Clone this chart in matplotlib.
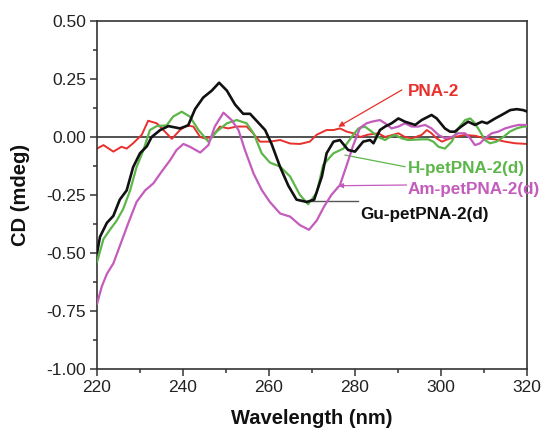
import matplotlib
matplotlib.use("Agg")
import matplotlib.pyplot as plt
from matplotlib.ticker import MultipleLocator

plt.rcParams['font.family'] = ['Liberation Sans', 'DejaVu Sans']

# ---- data ----
wl_gu = [220, 220.7, 222.3, 223.8, 225.3, 226.9, 228.4, 230.0, 231.6, 232.7, 234.7, 236.6,
         239.3, 241.2, 242.8, 244.7, 246.7, 248.4, 250.2, 252.1, 254.0, 255.6, 257.1, 259.1,
         260.6, 262.6, 264.5, 266.4, 268.8, 270.5, 272.3, 273.4, 275.0, 276.5, 278.4, 280.0,
         281.9, 283.5, 284.3, 285.8, 287.0, 288.5, 290.1, 291.6, 294.0, 295.5, 297.8, 299.0,
         300.9, 302.1, 303.2, 304.7, 306.3, 307.9, 309.5, 310.7, 312.6, 314.1, 316.1, 317.6,
         319.1, 320]
cd_gu = [-0.50, -0.43, -0.37, -0.34, -0.27, -0.23, -0.13, -0.07, -0.04, 0.00, 0.03, 0.047,
         0.037, 0.05, 0.12, 0.17, 0.20, 0.234, 0.20, 0.14, 0.10, 0.10, 0.07, 0.03,
         -0.03, -0.13, -0.21, -0.27, -0.28, -0.27, -0.17, -0.07, -0.02, -0.013, -0.056, -0.063,
         -0.02, -0.013, -0.027, 0.03, 0.045, 0.059, 0.08, 0.066, 0.052, 0.073, 0.095, 0.08,
         0.037, 0.023, 0.023, 0.045, 0.066, 0.052, 0.066, 0.059, 0.08, 0.095, 0.116, 0.12,
         0.116, 0.11]

wl_h = [220, 221.5, 223, 224.6, 226.1, 227.7, 229.2, 230.8, 232.3, 233.9, 236.2, 237.7,
        239.7, 241.6, 243.6, 245.9, 247.8, 250.2, 252.5, 254.8, 256.4, 258.3, 260.2, 262.6,
        264.9, 267.2, 269.1, 271.1, 272.6, 275.0, 277.3, 279.2, 280.8, 282.3, 283.9, 285.4,
        287.0, 288.1, 289.3, 290.9, 292.4, 295.5, 297.0, 298.2, 299.4, 300.9, 302.5, 304.0,
        305.6, 306.8, 307.9, 309.1, 310.2, 311.4, 312.9, 314.5, 316.0, 317.6, 319.1, 320]
cd_h = [-0.54, -0.44, -0.40, -0.36, -0.31, -0.23, -0.13, -0.056, 0.03, 0.047, 0.05, 0.088,
        0.109, 0.088, 0.03, -0.02, 0.023, 0.059, 0.073, 0.059, 0.016, -0.07, -0.11, -0.128,
        -0.17, -0.25, -0.29, -0.24, -0.12, -0.07, -0.05, 0.0, 0.037, 0.045, 0.023, 0.0,
        -0.013, 0.0, 0.009, -0.006, -0.013, -0.01, -0.01, -0.02, -0.042, -0.05, -0.02, 0.037,
        0.073, 0.08, 0.059, 0.023, -0.013, -0.027, -0.02, 0.0, 0.023, 0.037, 0.045, 0.045]

wl_pna = [220, 221.5, 223.8, 225.7, 226.9, 228.4, 230.4, 231.9, 233.9, 235.8, 237.4, 239.3,
          240.9, 242.4, 244.0, 245.1, 246.7, 248.6, 250.5, 252.5, 254.8, 256.3, 257.9, 260.2,
          262.6, 264.9, 267.2, 269.5, 271.1, 273.4, 275.0, 276.5, 278.1, 279.6, 281.2, 283.0,
          285.4, 287.0, 290.1, 291.6, 293.2, 295.5, 296.7, 297.8, 299.0, 300.2, 301.5, 303.2,
          305.6, 308.0, 310.2, 312.5, 314.9, 317.2, 320]
cd_pna = [-0.05, -0.035, -0.063, -0.042, -0.05, -0.027, 0.009, 0.07, 0.059, 0.023, -0.008, 0.03,
          0.05, 0.045, 0.0, -0.006, 0.0, 0.045, 0.037, 0.045, 0.045, 0.016, -0.02, -0.02,
          -0.013, -0.028, -0.03, -0.02, 0.01, 0.03, 0.03, 0.037, 0.023, 0.016, 0.0, 0.01,
          0.016, 0.0, 0.016, 0.0, -0.006, 0.009, 0.03, 0.016, -0.006, -0.02, -0.01, 0.0,
          0.009, 0.005, -0.006, -0.01, -0.02, -0.027, -0.03]

wl_am = [220, 221.1, 222.3, 223.8, 225.3, 227.3, 229.2, 231.2, 233.1, 235.0, 237.0, 238.5,
         240.1, 241.6, 244.0, 245.9, 247.4, 249.4, 251.3, 252.9, 254.4, 256.4, 258.3, 260.2,
         262.6, 264.9, 267.2, 269.3, 271.1, 272.8, 274.5, 276.5, 278.1, 279.6, 281.2, 282.7,
         283.9, 285.8, 287.0, 288.5, 290.1, 291.6, 293.2, 294.7, 296.3, 297.8, 299.4, 300.9,
         302.5, 304.0, 305.6, 306.8, 307.9, 309.1, 310.2, 311.8, 313.3, 314.9, 316.4, 318.0,
         320]
cd_am = [-0.72, -0.645, -0.59, -0.545, -0.47, -0.37, -0.28, -0.23, -0.20, -0.15, -0.10, -0.056,
         -0.03, -0.042, -0.067, -0.035, 0.045, 0.105, 0.073, 0.03, -0.056, -0.157, -0.228, -0.28,
         -0.33, -0.343, -0.38, -0.40, -0.36, -0.30, -0.25, -0.207, -0.12, -0.035, 0.04, 0.059,
         0.066, 0.073, 0.059, 0.037, 0.045, 0.059, 0.045, 0.045, 0.052, 0.037, 0.009, -0.005,
         0.0, 0.016, 0.016, -0.006, -0.035, -0.027, -0.006, 0.016, 0.023, 0.037, 0.045, 0.052,
         0.052]

x_ticks = [220, 240, 260, 280, 300, 320]
y_ticks = [0.50, 0.25, 0.00, -0.25, -0.50, -0.75, -1.00]

C_RED = '#e8302c'
C_GREEN = '#5db64a'
C_MAG = '#c35cbc'
C_BLACK = '#111111'

fig = plt.figure(figsize=(5.43, 4.28), dpi=100)
ax = fig.add_axes([97/543, 1-369/428, 430/543, 348/428])

ax.axhline(0, color='#444444', lw=1.3, zorder=1)
kw = dict(solid_joinstyle='round', solid_capstyle='round')
ax.plot(wl_pna, cd_pna, color=C_RED, lw=1.4, zorder=2, **kw)
ax.plot(wl_h, cd_h, color=C_GREEN, lw=1.6, zorder=3, **kw)
ax.plot(wl_am, cd_am, color=C_MAG, lw=1.6, zorder=3, **kw)
ax.plot(wl_gu, cd_gu, color=C_BLACK, lw=1.9, zorder=4, **kw)

ax.set_xlim(220, 320)
ax.set_ylim(-1.0, 0.5)
ax.set_xticks(x_ticks)
ax.set_xticklabels([str(v) for v in x_ticks])
ax.set_yticks(y_ticks)
ax.set_yticklabels([f"{v:.2f}" for v in y_ticks])
ax.xaxis.set_minor_locator(MultipleLocator(10))
ax.yaxis.set_minor_locator(MultipleLocator(0.125))
ax.tick_params(which='both', direction='out', top=False, right=False,
               color='#333333', width=1.1)
ax.tick_params(which='major', length=5, labelsize=12.5, pad=3, labelcolor='#222222')
ax.tick_params(which='minor', length=3)
for s in ax.spines.values():
    s.set_color('#333333')
    s.set_linewidth(1.2)

fig.text(21/543, 1-195/428, 'CD (mdeg)', rotation=90, ha='center', va='center',
         fontsize=14.5, fontweight='bold', color='#111111')
fig.text(312/543, 1-418/428, 'Wavelength (nm)', ha='center', va='center',
         fontsize=14.5, fontweight='bold', color='#111111')

# annotations
ax.annotate('', xy=(276.1, 0.044), xytext=(290.9, 0.203),
            arrowprops=dict(arrowstyle='-|>', color=C_RED, lw=0.9,
                            mutation_scale=8, shrinkA=0, shrinkB=0))
ax.text(292.3, 0.198, 'PNA-2', color=C_RED, fontsize=12.3, fontweight='bold',
        ha='left', va='center')

ax.plot([277.7, 291.6], [-0.078, -0.128], color=C_GREEN, lw=0.9)
ax.text(292.3, -0.134, 'H-petPNA-2(d)', color=C_GREEN, fontsize=12.3, fontweight='bold',
        ha='left', va='center', clip_on=False)

ax.annotate('', xy=(276.1, -0.21), xytext=(292.0, -0.207),
            arrowprops=dict(arrowstyle='-|>', color=C_MAG, lw=0.9,
                            mutation_scale=7, shrinkA=0, shrinkB=0))
ax.text(292.3, -0.228, 'Am-petPNA-2(d)', color=C_MAG, fontsize=12.3, fontweight='bold',
        ha='left', va='center', clip_on=False)

ax.plot([269.1, 280.7], [-0.275, -0.275], color='#555555', lw=1.0)
ax.text(281.2, -0.334, 'Gu-petPNA-2(d)', color=C_BLACK, fontsize=12.3, fontweight='bold',
        ha='left', va='center', clip_on=False)

fig.savefig('out.png', dpi=100)
